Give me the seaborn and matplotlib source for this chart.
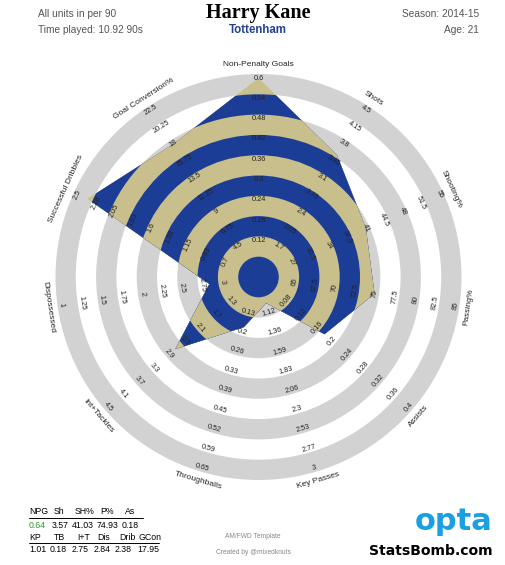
import numpy as np
import matplotlib
matplotlib.use("Agg")
import matplotlib.pyplot as plt
from matplotlib.patches import Circle, Polygon
import seaborn as sns

# radar categories, clockwise from the top
categories = ["Non-Penalty Goals", "Shots", "Shooting%", "Passing%", "Assists",
              "Key Passes", "Throughballs", "Int+Tackles", "Dispossessed",
              "Successful Dribbles", "Goal Conversion%"]

# player values per 90
values = [0.64, 3.57, 41.03, 74.93, 0.18, 1.01, 0.18, 2.75, 2.84, 2.38, 17.95]

# ring labels per axis, inner ring -> outer ring
tick_labels = [
    ["0.12", "0.18", "0.24", "0.3", "0.36", "0.42", "0.48", "0.54", "0.6"],
    ["1.7", "2.05", "2.4", "2.75", "3.1", "3.45", "3.8", "4.15", "4.5"],
    ["27", "30.5", "34", "37.5", "41", "44.5", "48", "51.5", "55"],
    ["65", "67.5", "70", "72.5", "75", "77.5", "80", "82.5", "85"],
    ["0.08", "0.12", "0.16", "0.2", "0.24", "0.28", "0.32", "0.36", "0.4"],
    ["1.12", "1.36", "1.59", "1.83", "2.06", "2.3", "2.53", "2.77", "3"],
    ["0.13", "0.2", "0.26", "0.33", "0.39", "0.45", "0.52", "0.59", "0.65"],
    ["1.3", "1.7", "2.1", "2.5", "2.9", "3.3", "3.7", "4.1", "4.5"],
    ["3", "2.75", "2.5", "2.25", "2", "1.75", "1.5", "1.25", "1"],
    ["0.7", "0.93", "1.15", "1.38", "1.6", "1.83", "2.05", "2.28", "2.5"],
    ["4.5", "6.75", "9", "11.25", "13.5", "15.75", "18", "20.25", "22.5"],
]

# summary table under the radar
table_head1 = ["NPG", "Sh", "SH%", "P%", "As"]
table_vals1 = ["0.64", "3.57", "41.03", "74.93", "0.18"]
table_head2 = ["KP", "TB", "I+T", "Dis", "Drib", "GCon"]
table_vals2 = ["1.01", "0.18", "2.75", "2.84", "2.38", "17.95"]

sns.set_theme(style="white")
plt.rcParams['font.family'] = ['Liberation Sans', 'DejaVu Sans']

BLUE = "#1c3d96"
TAN = "#c9bf8d"
GREY = "#d2d2d2"

fig = plt.figure(figsize=(5.06, 5.65), dpi=100)
ax = fig.add_axes([0, 0, 1, 1])
ax.set_xlim(0, 506)
ax.set_ylim(565, 0)
ax.axis("off")

cx, cy = 258.5, 277
w = 20.3
n = len(categories)
theta = np.arange(n) * 2 * np.pi / n


def rot_for(t):
    r = (-np.degrees(t)) % 360
    if r > 180:
        r -= 360
    if r > 90:
        r -= 180
    if r < -90:
        r += 180
    return r


# background rings
for j in range(9, -1, -1):
    ax.add_patch(Circle((cx, cy), (j + 1) * w, facecolor=GREY if j % 2 else "white",
                        edgecolor="none", zorder=1))

# polygon radius from value, using the ring scale of each axis
radii = []
for v, labs in zip(values, tick_labels):
    lo, hi = float(labs[0]), float(labs[-1])
    k = 2 + 8 * (v - lo) / (hi - lo)
    k = min(max(k, 0), 10)
    radii.append(k * w - 4)
radii = np.array(radii)
px = cx + radii * np.sin(theta)
py = cy - radii * np.cos(theta)
poly = Polygon(np.column_stack([px, py]), closed=True, facecolor="none",
               edgecolor="none", transform=ax.transData)
ax.add_patch(poly)

for j in range(9, -1, -1):
    c = Circle((cx, cy), (j + 1) * w, facecolor=TAN if j % 2 else BLUE,
               edgecolor="none", zorder=2)
    ax.add_patch(c)
    c.set_clip_path(poly)

# tick labels and axis names
for i, t in enumerate(theta):
    rot = rot_for(t)
    for k, lab in enumerate(tick_labels[i], start=2):
        r = k * w - 4
        ax.text(cx + r * np.sin(t), cy - r * np.cos(t), lab, fontsize=5.3,
                color="#222222", ha="center", va="center", rotation=rot,
                rotation_mode="anchor", zorder=5)
    r = 212
    ax.text(cx + r * np.sin(t), cy - r * np.cos(t), categories[i], fontsize=6,
            color="#222222", ha="center", va="center", rotation=rot,
            rotation_mode="anchor", zorder=5)

# header
ax.text(258, 13, "Harry Kane", family="Liberation Serif", fontweight="bold",
        fontsize=14.5, color="black", ha="center", va="center")
ax.text(258, 30, "Tottenham", fontweight="bold", fontsize=8.3, color="#24408f",
        ha="center", va="center")
ax.text(38, 14, "All units in per 90", fontsize=7.3, color="#555555", va="center")
ax.text(38, 30, "Time played: 10.92 90s", fontsize=7.3, color="#555555", va="center")
ax.text(479, 14, "Season: 2014-15", fontsize=7.3, color="#555555", va="center", ha="right")
ax.text(479, 30, "Age: 21", fontsize=7.3, color="#555555", va="center", ha="right")

# summary table
h1x = [29, 54, 75, 100, 125]
v1x = [29, 52, 72, 97, 122]
h2x = [29, 54, 77, 97, 119, 139]
v2x = [29, 50, 72, 94, 115, 137]
fs = 6.3
for x, h in zip(h1x, table_head1):
    ax.text(x, 512, h, fontsize=fs, color="black", va="center")
for x, v in zip(v1x, table_vals1):
    ax.text(x, 525.5, v, fontsize=fs, color="#2e9a2e" if v == table_vals1[0] else "black",
            va="center")
for x, h in zip(h2x, table_head2):
    ax.text(x, 537, h, fontsize=fs, color="black", va="center")
for x, v in zip(v2x, table_vals2):
    ax.text(x, 550, v, fontsize=fs, color="black", va="center")
ax.plot([29, 143], [518, 518], color="black", lw=0.7)
ax.plot([29, 159], [542.5, 542.5], color="black", lw=0.7)

# footer
ax.text(253, 536, "AM/FWD Template", fontsize=4.8, color="#888888", ha="center", va="center")
ax.text(253, 552, "Created by @mixedknuts", fontsize=4.8, color="#888888", ha="center", va="center")
ax.text(493, 522, "opta", family="DejaVu Sans", fontweight="bold", fontsize=22,
        color="#1aa0e0", ha="right", va="center")
ax.text(493, 551, "StatsBomb.com", family="DejaVu Sans", fontweight="bold",
        fontsize=10.1, color="black", ha="right", va="center")

fig.savefig("out.png", dpi=100)
